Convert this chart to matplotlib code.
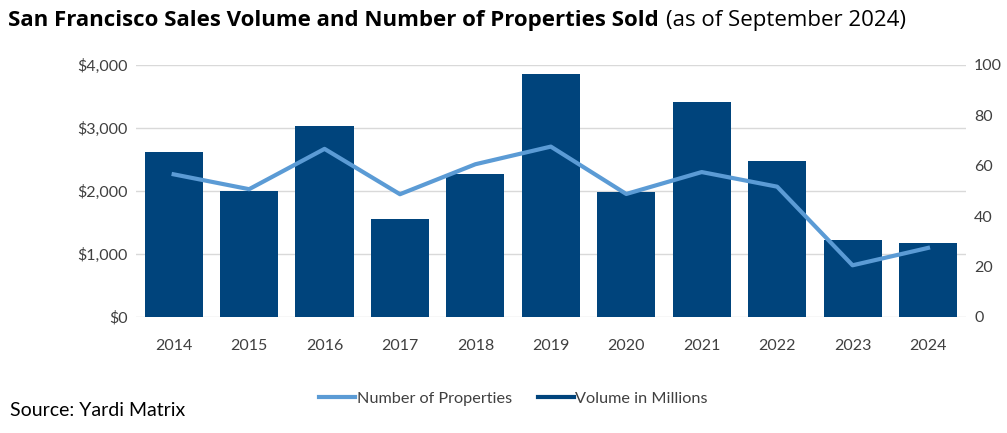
import matplotlib.pyplot as plt

plt.rcParams['font.family'] = ['Lato', 'DejaVu Sans']

years = ['2014', '2015', '2016', '2017', '2018', '2019', '2020', '2021', '2022', '2023', '2024']
volume = [2614, 2000, 3037, 1556, 2270, 3852, 1989, 3408, 2476, 1222, 1179]
properties = [56.6, 50.7, 66.7, 48.7, 60.6, 67.6, 48.8, 57.5, 51.7, 20.5, 27.4]

bar_color = '#00447c'
line_color = '#5b9bd5'
text_color = '#404040'

fig = plt.figure(figsize=(10.07, 4.33), dpi=100)
ax = fig.add_axes([0.135, 0.268, 0.824, 0.582])
ax2 = ax.twinx()

x = range(len(years))
ax.bar(x, volume, width=0.77, color=bar_color, zorder=2)
ax2.plot(x, properties, color=line_color, lw=3, zorder=3)

ax.set_xlim(-0.5, len(years) - 0.5)
ax.set_ylim(0, 4000)
ax.set_yticks([0, 1000, 2000, 3000, 4000])
ax.set_yticklabels(['$0', '$1,000', '$2,000', '$3,000', '$4,000'])
ax2.set_ylim(0, 100)
ax2.set_yticks([0, 20, 40, 60, 80, 100])
ax.set_xticks(list(x))
ax.set_xticklabels(years)
ax.yaxis.grid(True, color='#d9d9d9', lw=1, zorder=0)
ax.set_axisbelow(True)

for a in (ax, ax2):
    for s in a.spines.values():
        s.set_visible(False)
    a.tick_params(length=0, labelsize=11.5, labelcolor=text_color)
ax.tick_params(axis='y', pad=6)
ax.tick_params(axis='x', pad=16)
ax2.tick_params(axis='y', pad=6)

# title in two parts
t1 = fig.text(0.008, 0.953, 'San Francisco Sales Volume and Number of Properties Sold',
              fontsize=16, fontweight='bold', color='black', va='center',
              family=['Open Sans', 'DejaVu Sans'])
fig.canvas.draw()
bb = t1.get_window_extent()
fig.text((bb.x1 + 7) / fig.bbox.width, 0.953, '(as of September 2024)',
         fontsize=16, color='black', va='center', family=['Open Sans', 'DejaVu Sans'])

h1, = ax.plot([], [], color=line_color, lw=3, label='Number of Properties')
h2, = ax.plot([], [], color=bar_color, lw=3, label='Volume in Millions')
fig.legend(handles=[h1, h2], loc='center', bbox_to_anchor=(0.51, 0.08), ncol=2,
           frameon=False, fontsize=11.7, handlelength=2.2, handletextpad=0.1,
           columnspacing=1.6, labelcolor=text_color)

fig.text(0.01, 0.052, 'Source: Yardi Matrix', fontsize=14, color='black', va='center')

fig.savefig('out.png', dpi=100)
